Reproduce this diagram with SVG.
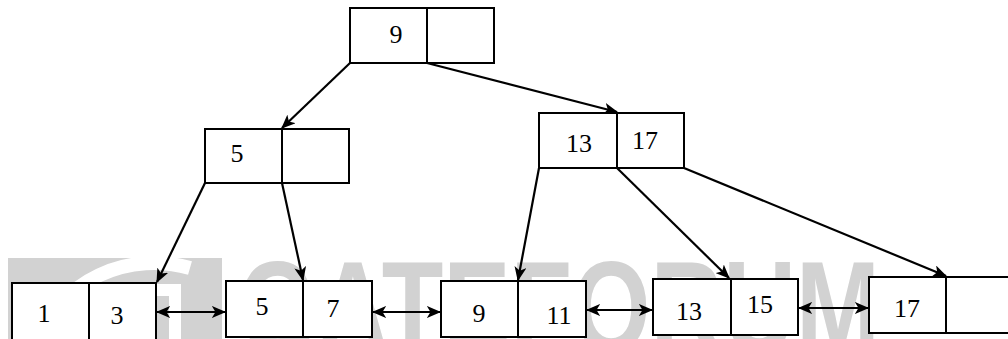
<svg xmlns="http://www.w3.org/2000/svg" width="1008" height="339" viewBox="0 0 1008 339">
<style>
.box{fill:#fff;stroke:#000;stroke-width:2}
.div{stroke:#000;stroke-width:2}
.t{font-size:26px;fill:#000;text-anchor:middle}
.c{stroke:#000;stroke-width:2.2;fill:none}
.wm{font-weight:bold;fill:#d2d2d2}
</style>
<defs>
<marker id="ah" viewBox="0 0 12 10" refX="11" refY="5" markerWidth="6.5" markerHeight="5.5" orient="auto-start-reverse" markerUnits="strokeWidth">
<path d="M0,0 L12,5 L0,10 L3,5 Z" fill="#000"/>
</marker>
</defs>
<g id="watermark">
<rect x="8" y="258" width="214" height="81" fill="#d2d2d2"/>
<path d="M40,339 A120,110 0 0 1 190,268" stroke="#fff" stroke-width="14" fill="none"/>
<path d="M110,339 L110,290 L175,290 L175,339" stroke="#fff" stroke-width="12" fill="none"/>
<text class="wm" font-family="Liberation Sans, Arial, sans-serif" x="238" y="352" font-size="130" textLength="642" lengthAdjust="spacingAndGlyphs">GATEFORUM</text>
</g>
<g id="connectors">
<line class="c" x1="350" y1="63" x2="282" y2="128" marker-end="url(#ah)"/>
<line class="c" x1="427" y1="63" x2="617" y2="112" marker-end="url(#ah)"/>
<line class="c" x1="205" y1="183" x2="157" y2="282" marker-end="url(#ah)"/>
<line class="c" x1="282" y1="183" x2="303" y2="280" marker-end="url(#ah)"/>
<line class="c" x1="539" y1="168" x2="518" y2="280" marker-end="url(#ah)"/>
<line class="c" x1="617" y1="168" x2="729" y2="278" marker-end="url(#ah)"/>
<line class="c" x1="684" y1="168" x2="946" y2="276" marker-end="url(#ah)"/>
<line class="c" x1="157" y1="312" x2="225" y2="312" marker-start="url(#ah)" marker-end="url(#ah)"/>
<line class="c" x1="373" y1="312" x2="440" y2="312" marker-start="url(#ah)" marker-end="url(#ah)"/>
<line class="c" x1="587" y1="310" x2="652" y2="310" marker-start="url(#ah)" marker-end="url(#ah)"/>
<line class="c" x1="799" y1="308" x2="868" y2="308" marker-start="url(#ah)" marker-end="url(#ah)"/>
</g>
<g font-family="Liberation Serif, Times New Roman, serif">
<g id="root">
<rect class="box" x="350" y="8" width="144" height="55"/>
<line class="div" x1="427" y1="8" x2="427" y2="63"/>
<text class="t" x="396" y="43">9</text>
</g>
<g id="n5">
<rect class="box" x="205" y="129" width="144" height="54"/>
<line class="div" x1="282" y1="129" x2="282" y2="183"/>
<text class="t" x="237" y="162">5</text>
</g>
<g id="n13_17">
<rect class="box" x="539" y="113" width="145" height="55"/>
<line class="div" x1="617" y1="113" x2="617" y2="168"/>
<text class="t" x="579" y="152">13</text>
<text class="t" x="645" y="149">17</text>
</g>
<g id="leaf1">
<rect class="box" x="12" y="283" width="144" height="57"/>
<line class="div" x1="89" y1="283" x2="89" y2="340"/>
<text class="t" x="44" y="322">1</text>
<text class="t" x="117" y="324">3</text>
</g>
<g id="leaf2">
<rect class="box" x="226" y="281" width="146" height="56"/>
<line class="div" x1="303" y1="281" x2="303" y2="337"/>
<text class="t" x="262" y="315">5</text>
<text class="t" x="333" y="317">7</text>
</g>
<g id="leaf3">
<rect class="box" x="441" y="281" width="145" height="56"/>
<line class="div" x1="518" y1="281" x2="518" y2="337"/>
<text class="t" x="479" y="322">9</text>
<text class="t" x="559" y="324">11</text>
</g>
<g id="leaf4">
<rect class="box" x="653" y="279" width="145" height="56"/>
<line class="div" x1="731" y1="279" x2="731" y2="335"/>
<text class="t" x="689" y="320">13</text>
<text class="t" x="760" y="313">15</text>
</g>
<g id="leaf5">
<rect class="box" x="869" y="277" width="145" height="56"/>
<line class="div" x1="946" y1="277" x2="946" y2="333"/>
<text class="t" x="907" y="317">17</text>
</g>
</g>
</svg>
